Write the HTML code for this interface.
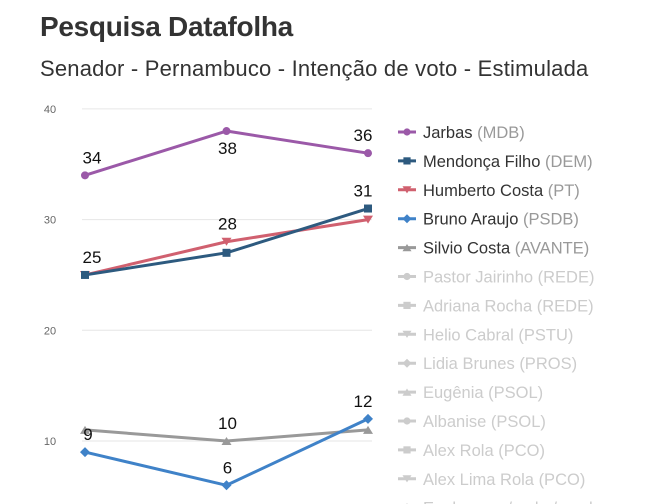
<!DOCTYPE html>
<html><head><meta charset="utf-8">
<style>
body{margin:0;background:#fff;width:663px;height:504px;overflow:hidden;font-family:"Liberation Sans",sans-serif;}
#t{position:absolute;left:40px;top:11px;font-size:28px;font-weight:bold;color:#333;letter-spacing:-0.3px}
#s{position:absolute;left:40px;top:56px;font-size:22px;color:#333;letter-spacing:0.2px}
svg{position:absolute;left:0;top:0}
</style></head><body>
<div id="t">Pesquisa Datafolha</div>
<div id="s">Senador - Pernambuco - Intenção de voto - Estimulada</div>
<svg id="c" width="663" height="504"></svg>
<script>
const yTicks=[10,20,30,40];
const names=["Jarbas","Mendonça Filho","Humberto Costa","Bruno Araujo","Silvio Costa"];
const parties=["(MDB)","(DEM)","(PT)","(PSDB)","(AVANTE)"];
const jarbas=[34,38,36];
const mendonca=[25,27,31];
const humberto=[25,28,30];
const bruno=[9,6,12];
const silvio=[11,10,11];
const hidden=["Pastor Jairinho","Adriana Rocha","Helio Cabral","Lidia Brunes","Eugênia","Albanise","Alex Rola","Alex Lima Rola","Em branco / nulo / nenhum"];
const hiddenParties=["(REDE)","(REDE)","(PSTU)","(PROS)","(PSOL)","(PSOL)","(PCO)","(PCO)",""];
const colors=["#9b59a8","#2d5a7f","#d0606f","#3f82c8","#999999"];
const shapes=["circle","square","tri-down","diamond","tri-up"];
const series=[jarbas,mendonca,humberto,bruno,silvio];
const labels=[[[0,-1],[1,1],[2,-1]],[[2,-1]],[[0,-1],[1,-1]],[[0,-1],[1,-1],[2,-1]],[[1,-1]]];
const svg=document.getElementById('c');const NS="http://www.w3.org/2000/svg";
const X=i=>85+i*141.5, Y=v=>441-(v-10)*11.07;
function mk(tag,a,p){const e=document.createElementNS(NS,tag);for(const k in a)e.setAttribute(k,a[k]);(p||svg).appendChild(e);return e;}
yTicks.forEach(t=>{
 const l=mk('line',{x1:82,x2:372,y1:Y(t),y2:Y(t),stroke:'#e6e6e6','stroke-width':1});
 
 
 const tx=mk('text',{x:50,y:Y(t)+4,'font-size':11,fill:'#666','text-anchor':'middle'});tx.textContent=t;
 
 
});
function marker(shape,x,y,c,s,p){
 if(shape=='circle')return mk('circle',{cx:x,cy:y,r:4*s,fill:c},p);
 if(shape=='square')return mk('rect',{x:x-4*s,y:y-4*s,width:8*s,height:8*s,fill:c},p);
 if(shape=='diamond')return mk('polygon',{points:`${x},${y-5*s} ${x+5*s},${y} ${x},${y+5*s} ${x-5*s},${y}`,fill:c},p);
 if(shape=='tri-down')return mk('polygon',{points:`${x-5*s},${y-4*s} ${x+5*s},${y-4*s} ${x},${y+4*s}`,fill:c},p);
 return mk('polygon',{points:`${x-5*s},${y+4*s} ${x+5*s},${y+4*s} ${x},${y-4*s}`,fill:c},p);
}
const order=[4,3,2,1,0];
order.forEach(si=>{
 const d=series[si];const g=mk('g',{});
 
 
 mk('polyline',{points:d.map((v,i)=>X(i)+','+Y(v)).join(' '),fill:'none',stroke:colors[si],'stroke-width':3,'stroke-linejoin':'round'},g);
 d.forEach((v,i)=>{const m=marker(shapes[si],X(i),Y(v),colors[si],1,g);
  
  });
});
labels.forEach((ls,si)=>ls.forEach(([i,dir])=>{
 const v=series[si][i];const y=dir<0?Y(v)-12:(dir>0?Y(v)+23:Y(v)+6);
 const x=X(i)+(i==0?(v<10?3:7):(i==2?-5:1));
 const t=mk('text',{x:x,y:y,'font-size':17,fill:'#111','text-anchor':'middle'});t.textContent=v;
 
 
}));
const allN=names.concat(hidden), allP=parties.concat(hiddenParties);
allN.forEach((n,k)=>{
 const y=132+k*28.9;const on=k<5;const c=on?colors[k]:'#cccccc';
 const g=mk('g',{});
 
 
 mk('line',{x1:398,x2:416,y1:y,y2:y,stroke:c,'stroke-width':3},g);
 marker(shapes[k%5],407,y,c,0.9,g);
 const t=mk('text',{x:423,y:y+6,'font-size':16.5,fill:on?'#333':'#cccccc'},g);
 t.textContent=n+' ';
 const sp=mk('tspan',{fill:on?'#999':'#cccccc'},t);sp.textContent=allP[k];
});
</script>
</body></html>
